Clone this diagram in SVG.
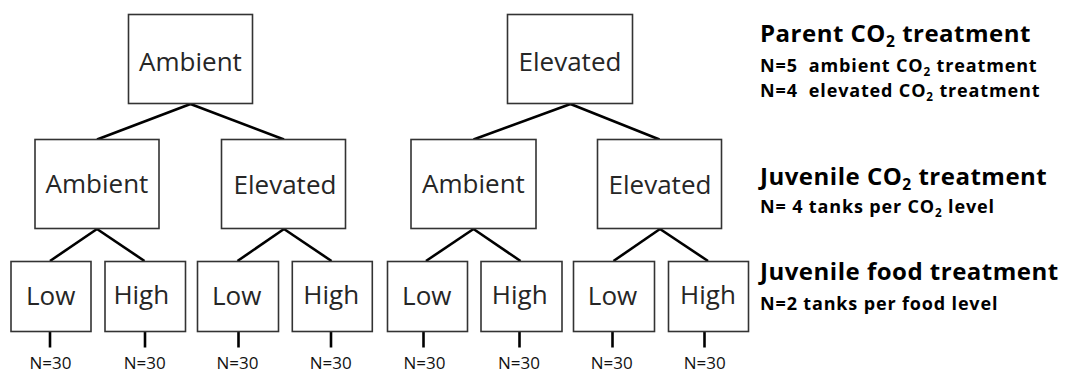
<svg xmlns="http://www.w3.org/2000/svg" width="1065" height="374" viewBox="0 0 1065 374">
<style>
.box{fill:#fff;stroke:#333;stroke-width:1.6}
.bt{font-family:"Open Sans","Liberation Sans",sans-serif;font-size:26px;fill:#262626;text-anchor:middle}
.n{font-family:"Open Sans","Liberation Sans",sans-serif;font-size:17px;fill:#111;text-anchor:middle}
.conn line{stroke:#000;stroke-width:2.6;stroke-linecap:butt}
.h{font-family:"Open Sans","Liberation Sans",sans-serif;font-weight:bold;font-size:24px;letter-spacing:0.5px;fill:#000}
.s{font-family:"Open Sans","Liberation Sans",sans-serif;font-weight:bold;font-size:18px;letter-spacing:0.85px;fill:#000}
.sub{font-size:65%}
</style>
<rect width="1065" height="374" fill="#fff"/>
<g id="connectors" class="conn">
<line x1="190.5" y1="104" x2="97" y2="139.5"/>
<line x1="190.5" y1="104" x2="284" y2="139.5"/>
<line x1="570.5" y1="104" x2="473.5" y2="139.5"/>
<line x1="570.5" y1="104" x2="659.5" y2="139.5"/>
<line x1="97" y1="229" x2="50" y2="261"/>
<line x1="97" y1="229" x2="144.5" y2="261"/>
<line x1="284" y1="229" x2="237.5" y2="261"/>
<line x1="284" y1="229" x2="331.5" y2="261"/>
<line x1="473.5" y1="229" x2="426" y2="261"/>
<line x1="473.5" y1="229" x2="520.5" y2="261"/>
<line x1="660" y1="229" x2="613.5" y2="261"/>
<line x1="660" y1="229" x2="708" y2="261"/>
<line x1="50" y1="331" x2="50" y2="347.5"/>
<line x1="145" y1="331" x2="145" y2="347.5"/>
<line x1="238.5" y1="331" x2="238.5" y2="347.5"/>
<line x1="331" y1="331" x2="331" y2="347.5"/>
<line x1="423.5" y1="331" x2="423.5" y2="347.5"/>
<line x1="519.5" y1="331" x2="519.5" y2="347.5"/>
<line x1="612.5" y1="331" x2="612.5" y2="347.5"/>
<line x1="704.5" y1="331" x2="704.5" y2="347.5"/>
</g>
<g id="parent-ambient"><rect class="box" x="128.5" y="14.5" width="124" height="89"/><text class="bt" x="190.5" y="71">Ambient</text></g>
<g id="parent-elevated"><rect class="box" x="507.5" y="14.5" width="125" height="89"/><text class="bt" x="570" y="71">Elevated</text></g>
<g id="juv-a-ambient"><rect class="box" x="35" y="139.5" width="124" height="89"/><text class="bt" x="97" y="193">Ambient</text></g>
<g id="juv-a-elevated"><rect class="box" x="221.5" y="139.5" width="124" height="89"/><text class="bt" x="285" y="194">Elevated</text></g>
<g id="juv-e-ambient"><rect class="box" x="411" y="139.5" width="125" height="89"/><text class="bt" x="473.5" y="193">Ambient</text></g>
<g id="juv-e-elevated"><rect class="box" x="597.5" y="139.5" width="124" height="89"/><text class="bt" x="660" y="194">Elevated</text></g>
<g id="leaf1"><rect class="box" x="11" y="261.5" width="80" height="70"/><text class="bt" x="50.7" y="305">Low</text><text class="n" x="50.5" y="369">N=30</text></g>
<g id="leaf2"><rect class="box" x="105" y="261.5" width="80.5" height="70"/><text class="bt" x="141.3" y="304">High</text><text class="n" x="144.8" y="369">N=30</text></g>
<g id="leaf3"><rect class="box" x="197.5" y="261.5" width="81" height="70"/><text class="bt" x="236.7" y="305">Low</text><text class="n" x="237.5" y="369">N=30</text></g>
<g id="leaf4"><rect class="box" x="292.3" y="261.5" width="80" height="70"/><text class="bt" x="331.2" y="304">High</text><text class="n" x="330.8" y="369">N=30</text></g>
<g id="leaf5"><rect class="box" x="387.5" y="261.5" width="80" height="70"/><text class="bt" x="426.8" y="305">Low</text><text class="n" x="424.5" y="369">N=30</text></g>
<g id="leaf6"><rect class="box" x="481" y="261.5" width="81" height="70"/><text class="bt" x="519.7" y="304">High</text><text class="n" x="519" y="369">N=30</text></g>
<g id="leaf7"><rect class="box" x="573.5" y="261.5" width="81" height="70"/><text class="bt" x="612.5" y="305">Low</text><text class="n" x="611.7" y="369">N=30</text></g>
<g id="leaf8"><rect class="box" x="668.5" y="261.5" width="80" height="70"/><text class="bt" x="708" y="304">High</text><text class="n" x="704.8" y="369">N=30</text></g>
<g id="legend">
<text class="h" x="760" y="41.7">Parent CO<tspan class="sub" dy="5">2</tspan><tspan dy="-5"> treatment</tspan></text>
<text class="s" x="760" y="71.7">N=5&#160; ambient CO<tspan class="sub" dy="4">2</tspan><tspan dy="-4"> treatment</tspan></text>
<text class="s" x="760" y="97.3">N=4&#160; elevated CO<tspan class="sub" dy="4">2</tspan><tspan dy="-4"> treatment</tspan></text>
<text class="h" x="760" y="185">Juvenile CO<tspan class="sub" dy="5">2</tspan><tspan dy="-5"> treatment</tspan></text>
<text class="s" x="760" y="213.3">N= 4 tanks per CO<tspan class="sub" dy="4">2</tspan><tspan dy="-4"> level</tspan></text>
<text class="h" x="760" y="280">Juvenile food treatment</text>
<text class="s" x="760" y="310">N=2 tanks per food level</text>
</g>
</svg>
